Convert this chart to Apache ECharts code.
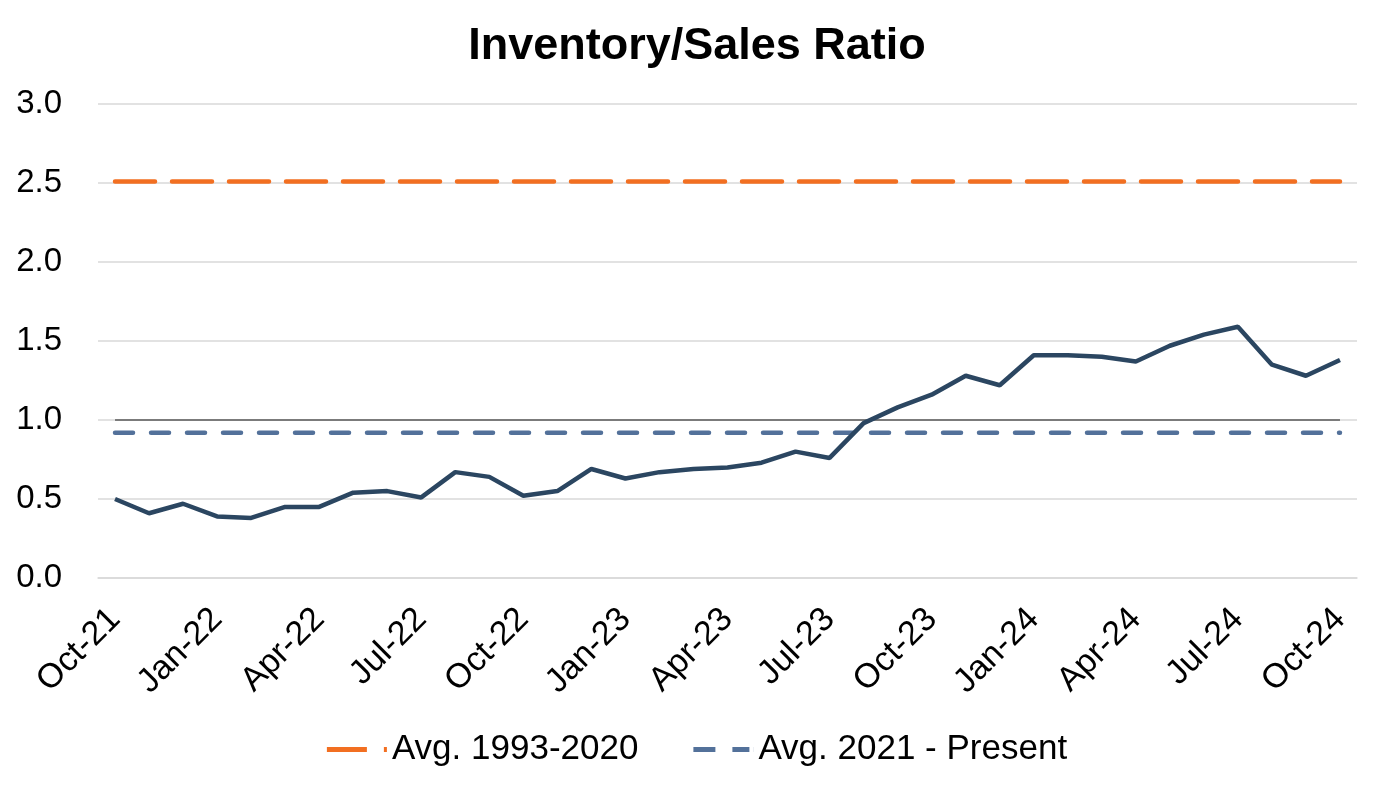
<!DOCTYPE html>
<html>
<head>
<meta charset="utf-8">
<script src="https://cdn.jsdelivr.net/npm/echarts@6/dist/echarts.min.js"></script>
<style>html,body{margin:0;padding:0;background:#fff;}#c{width:1394px;height:791px;}</style>
</head>
<body>
<div id="c"></div>
<script>
const categories = ["Oct-21","Nov-21","Dec-21","Jan-22","Feb-22","Mar-22","Apr-22","May-22","Jun-22","Jul-22","Aug-22","Sep-22",
  "Oct-22","Nov-22","Dec-22","Jan-23","Feb-23","Mar-23","Apr-23","May-23","Jun-23","Jul-23","Aug-23","Sep-23",
  "Oct-23","Nov-23","Dec-23","Jan-24","Feb-24","Mar-24","Apr-24","May-24","Jun-24","Jul-24","Aug-24","Sep-24","Oct-24"];
const ratio = [0.50,0.41,0.47,0.39,0.38,0.45,0.45,0.54,0.55,0.51,0.67,0.64,
  0.52,0.55,0.69,0.63,0.67,0.69,0.70,0.73,0.80,0.76,0.98,1.08,
  1.16,1.28,1.22,1.41,1.41,1.40,1.37,1.47,1.54,1.59,1.35,1.28,1.38];
const avg1993 = categories.map(() => 2.51);
const avg2021 = categories.map(() => 0.92);
const oneLine = categories.map(() => 1.0);
const yTicks = [0, 0.5, 1.0, 1.5, 2.0, 2.5, 3.0];

const chart = echarts.init(document.getElementById('c'));
const font = 'Liberation Sans, Arial, sans-serif';
chart.setOption({
  animation: false,
  title: { text: 'Inventory/Sales Ratio', left: 'center', top: 19,
    textStyle: { fontFamily: font, fontSize: 45, fontWeight: 'bold', color: '#000' } },
  grid: { left: 98, right: 37, top: 104, bottom: 213 },
  legend: {
    bottom: 19, left: 'center', itemWidth: 60, itemHeight: 5, itemGap: 55,
    textStyle: { fontFamily: font, fontSize: 35, color: '#000' },
    data: [
      { name: 'Avg. 1993-2020', icon: 'path://M0,0H40V5H0Z M57,0H60V5H57Z' },
      { name: 'Avg. 2021 - Present', icon: 'path://M0,0H22V5H0Z M39,0H56V5H39Z M59.9,0H60V5H59.9Z' }
    ]
  },
  xAxis: {
    type: 'category', data: categories, boundaryGap: true,
    axisLine: { lineStyle: { color: '#d9d9d9', width: 1.5 } },
    axisTick: { interval: 2, length: 8, lineStyle: { color: '#d9d9d9', width: 1.5 } },
    axisLabel: { interval: 2, rotate: 45, fontFamily: font, fontSize: 34, color: '#000', margin: 36 }
  },
  yAxis: {
    type: 'value', min: yTicks[0], max: yTicks[yTicks.length-1], interval: 0.5,
    axisLine: { show: false }, axisTick: { show: false },
    splitLine: { lineStyle: { color: '#d9d9d9', width: 1.5 } },
    axisLabel: { fontFamily: font, fontSize: 33, color: '#000', margin: 36,
      formatter: v => v.toFixed(1) }
  },
  series: [
    { name: 'Avg. 1993-2020', type: 'line', data: avg1993, symbol: 'none',
      lineStyle: { color: '#f26f21', width: 4.5, type: [40, 17], cap: 'round' },
      itemStyle: { color: '#f26f21' } },
    { name: 'Avg. 2021 - Present', type: 'line', data: avg2021, symbol: 'none',
      lineStyle: { color: '#53719a', width: 4.5, type: [18, 18], cap: 'round' },
      itemStyle: { color: '#53719a' } },
    { name: 'One', type: 'line', data: oneLine, symbol: 'none', silent: true,
      lineStyle: { color: '#595959', width: 1.5 } },
    { name: 'Inventory/Sales Ratio', type: 'line', data: ratio, symbol: 'none',
      lineStyle: { color: '#2b4661', width: 4.5 }, itemStyle: { color: '#2b4661' } }
  ]
});
</script>
</body>
</html>
